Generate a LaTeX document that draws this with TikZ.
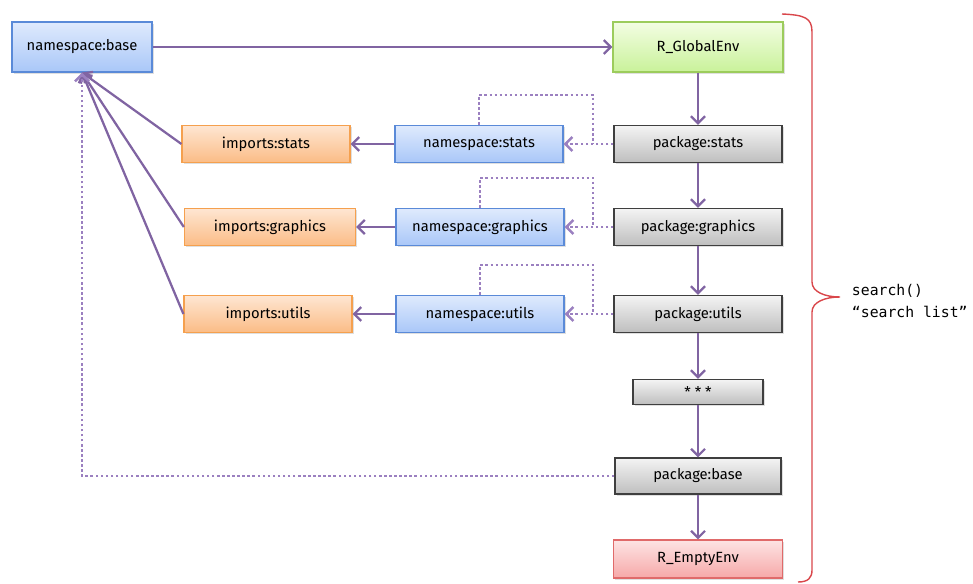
\documentclass[tikz,border=0pt]{standalone}
\usepackage{fontspec}
\setmainfont{Fira Sans}
\setmonofont{DejaVu Sans Mono}
\usetikzlibrary{arrows.meta,shadows}

\definecolor{nstop}{HTML}{DFEAFD}
\definecolor{nsbot}{HTML}{A9C7F8}
\definecolor{nsborder}{HTML}{5A8AD8}
\definecolor{gtop}{HTML}{F3FDE3}
\definecolor{gbot}{HTML}{C9F29A}
\definecolor{gborder}{HTML}{9CCC5C}
\definecolor{itop}{HTML}{FEE6D2}
\definecolor{ibot}{HTML}{FBBC86}
\definecolor{iborder}{HTML}{F5A04E}
\definecolor{ptop}{HTML}{F4F4F4}
\definecolor{pbot}{HTML}{BEBEBE}
\definecolor{pborder}{HTML}{3F3F3F}
\definecolor{etop}{HTML}{FDE4E4}
\definecolor{ebot}{HTML}{F6A8A8}
\definecolor{eborder}{HTML}{E06A6A}
\definecolor{arrowc}{HTML}{8064A2}
\definecolor{dotc}{HTML}{9B80C0}
\definecolor{bracec}{HTML}{D9474B}

\begin{document}
\begin{tikzpicture}[x=0.025cm,y=-0.025cm,
        box/.style={rectangle,draw,line width=0.8pt,minimum width=4.2cm,minimum height=0.93cm,
            font=\fontsize{10.5}{13}\selectfont,
            drop shadow={opacity=0.25,shadow xshift=1.2pt,shadow yshift=-1.2pt}},
        nsbox/.style={box,draw=nsborder,top color=nstop,bottom color=nsbot},
        globalbox/.style={box,draw=gborder,top color=gtop,bottom color=gbot},
        impbox/.style={box,draw=iborder,top color=itop,bottom color=ibot},
        pkgbox/.style={box,draw=pborder,top color=ptop,bottom color=pbot},
        emptybox/.style={box,draw=eborder,top color=etop,bottom color=ebot},
        link/.style={-{Straight Barb[length=5pt,width=10pt]},line width=1.6pt,draw=arrowc},
        lookup/.style={link,draw=dotc,line width=1.8pt,dash pattern=on 1.8pt off 1.8pt}
    ]
        \useasboundingbox (0,0) rectangle (973,584);

        % Environments
        \node[nsbox,minimum width=3.5cm,minimum height=1.25cm] (nsbase) at (82,47) {namespace:base};
        \node[globalbox,minimum width=4.25cm,minimum height=1.25cm] (global) at (698,47) {R\_GlobalEnv};
        \node[pkgbox] (pkgstats) at (698,144) {package:stats};
        \node[nsbox] (nsstats) at (479,144) {namespace:stats};
        \node[impbox] (impstats) at (266,144) {imports:stats};
        \node[pkgbox] (pkggraphics) at (698,227) {package:graphics};
        \node[nsbox] (nsgraphics) at (480,227) {namespace:graphics};
        \node[impbox,minimum width=4.28cm] (impgraphics) at (270,227) {imports:graphics};
        \node[pkgbox] (pkgutils) at (698,314) {package:utils};
        \node[nsbox] (nsutils) at (480,314) {namespace:utils};
        \node[impbox] (imputils) at (268,314) {imports:utils};
        \node[pkgbox,minimum width=3.25cm,minimum height=0.63cm] (more) at (698,392) {* * *};
        \node[pkgbox,minimum width=4.15cm,minimum height=0.9cm] (pkgbase) at (698,476) {package:base};
        \node[emptybox,minimum width=4.22cm,minimum height=0.95cm] (empty) at (698,559) {R\_EmptyEnv};

        % Junctions of the lookup loops
        \coordinate (jstats) at (593,144);
        \coordinate (jgraphics) at (593,227);
        \coordinate (jutils) at (593,314);

        % Search path
        \draw[link] (nsbase) -- (global);
        \draw[link] (global) -- (pkgstats);
        \draw[link] (pkgstats) -- (pkggraphics);
        \draw[link] (pkggraphics) -- (pkgutils);
        \draw[link] (pkgutils) -- (more);
        \draw[link] (more) -- (pkgbase);
        \draw[link] (pkgbase) -- (empty);

        % Namespaces and imports
        \foreach \pkg in {stats,graphics,utils} {
            \draw[link] (ns\pkg) -- (imp\pkg);
            \draw[link] (imp\pkg.west) -- (nsbase.south);
            \draw[lookup] (pkg\pkg) -- (ns\pkg);
            \draw[lookup,-] (ns\pkg.north) -- ++(0,-30) -| (j\pkg);
        }
        \draw[lookup] (pkgbase.west) -| (nsbase.south);

        % Brace
        \draw[bracec,line width=1pt] (782,14) .. controls (805,15) and (812,18) .. (812,32)
            -- (812,282) .. controls (812,292) and (825,297) .. (840,297)
            .. controls (825,297) and (812,302) .. (812,312)
            -- (812,570) .. controls (812,578) and (808,582) .. (798,582);
        \node[anchor=west,align=left,font=\ttfamily\fontsize{10.5}{15.5}\selectfont] (searchlist) at (847,301) {search()\\“search list”};
\end{tikzpicture}
\end{document}
